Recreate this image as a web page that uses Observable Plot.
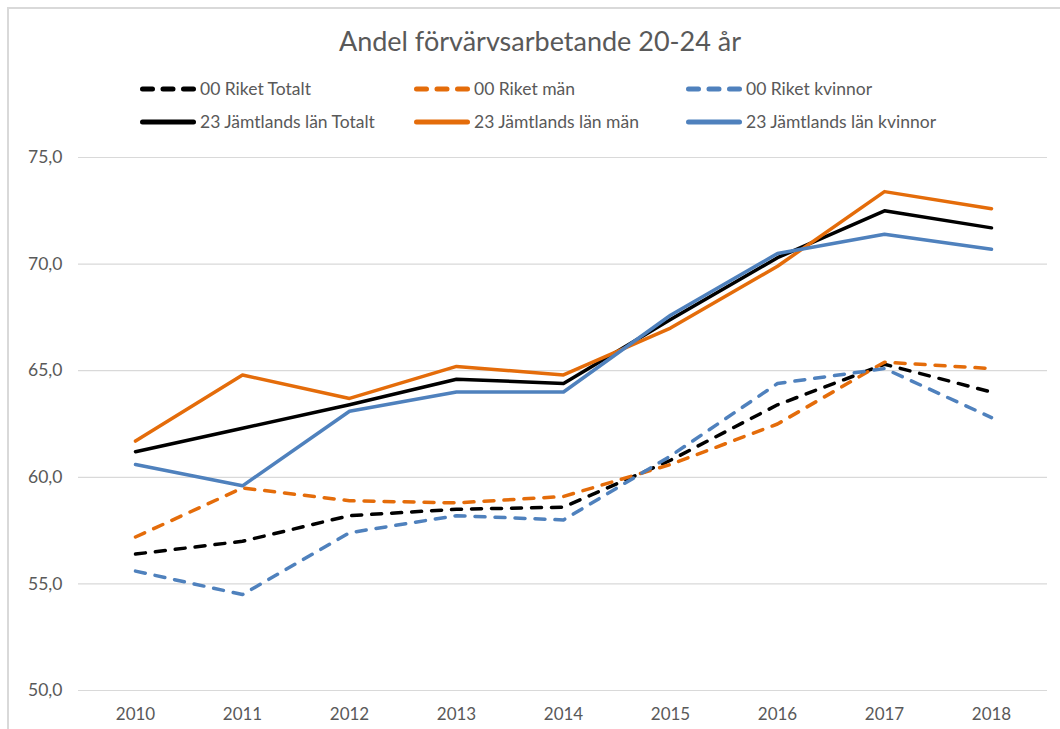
<!DOCTYPE html>
<html>
<head>
<meta charset="utf-8">
<script src="https://cdn.jsdelivr.net/npm/d3@7"></script>
<script src="https://cdn.jsdelivr.net/npm/@observablehq/plot@0.6"></script>
<style>
  html, body { margin: 0; padding: 0; background: #fff; }
  body { width: 1060px; height: 729px; position: relative; overflow: hidden; font-family: Lato, "Open Sans", sans-serif; color: #595959; }
  #frame { position: absolute; left: 7px; top: 7px; width: 1100px; height: 800px; border-top: 2px solid #d9d9d9; border-left: 2px solid #d9d9d9; }
  #title { position: absolute; left: 0; width: 1080px; top: 24px; text-align: center; font-size: 27px; color: #595959; }
  .leg { position: absolute; font-size: 17.5px; color: #595959; display: flex; align-items: center; white-space: nowrap; }
  .leg svg { margin-right: 3px; }
  #chart { position: absolute; left: 0; top: 140px; }
</style>
</head>
<body>
<div id="frame"></div>
<div id="title">Andel förvärvsarbetande 20-24 år</div>
<div id="legend"></div>
<div id="chart"></div>
<script>
const years = ["2010", "2011", "2012", "2013", "2014", "2015", "2016", "2017", "2018"];
const seriesNames = ["00 Riket Totalt", "00 Riket män", "00 Riket kvinnor", "23 Jämtlands län Totalt", "23 Jämtlands län män", "23 Jämtlands län kvinnor"];
const riketTotalt = [56.4, 57.0, 58.2, 58.5, 58.6, 60.8, 63.4, 65.3, 64.0];
const riketMan = [57.2, 59.5, 58.9, 58.8, 59.1, 60.6, 62.5, 65.4, 65.1];
const riketKvinnor = [55.6, 54.5, 57.4, 58.2, 58.0, 61.0, 64.4, 65.1, 62.8];
const jamtTotalt = [61.2, 62.3, 63.4, 64.6, 64.4, 67.4, 70.3, 72.5, 71.7];
const jamtMan = [61.7, 64.8, 63.7, 65.2, 64.8, 67.0, 69.9, 73.4, 72.6];
const jamtKvinnor = [60.6, 59.6, 63.1, 64.0, 64.0, 67.6, 70.5, 71.4, 70.7];
const yTicks = [50, 55, 60, 65, 70, 75];

const colors = ["#000000", "#E46C0A", "#4F81BD", "#000000", "#E46C0A", "#4F81BD"];
const dashed = [true, true, true, false, false, false];
const valuesList = [riketTotalt, riketMan, riketKvinnor, jamtTotalt, jamtMan, jamtKvinnor];

const rows = [];
seriesNames.forEach((name, i) => {
  valuesList[i].forEach((v, j) => rows.push({series: name, year: years[j], value: v}));
});

const fmt = d => d.toFixed(1).replace(".", ",");

const lineMarks = seriesNames.map((name, i) =>
  Plot.line(rows.filter(r => r.series === name), {
    x: "year", y: "value",
    stroke: colors[i],
    strokeWidth: 3.5,
    strokeDasharray: dashed[i] ? "10,10" : null,
    strokeLinecap: "round",
    strokeLinejoin: "round"
  })
);

const chart = Plot.plot({
  width: 1060,
  height: 589,
  marginLeft: 78,
  marginRight: 13,
  marginTop: 17,
  marginBottom: 39,
  style: { fontFamily: "Lato, 'Open Sans', sans-serif", fontSize: "17px", color: "#595959", background: "transparent" },
  x: { type: "point", domain: years, padding: 0.5, label: null },
  y: { domain: [50, 75], label: null },
  marks: [
    Plot.gridY(yTicks, { stroke: "#d9d9d9", strokeOpacity: 1, strokeWidth: 1.2 }),
    Plot.axisY(yTicks, { tickSize: 0, tickPadding: 16, tickFormat: fmt, fill: "#595959", fontSize: 17.5 }),
    Plot.axisX(years, { tickSize: 0, tickPadding: 17, fill: "#595959", fontSize: 17 }),
    ...lineMarks
  ]
});
document.getElementById("chart").appendChild(chart);

// Legend
const legendPos = [
  [139, 78], [413, 78], [685, 78],
  [139, 111], [413, 111], [685, 111]
];
const legend = document.getElementById("legend");
seriesNames.forEach((name, i) => {
  const d = document.createElement("div");
  d.className = "leg";
  d.style.left = legendPos[i][0] + "px";
  d.style.top = legendPos[i][1] + "px";
  d.innerHTML = `<svg width="58" height="20"><line x1="3.5" y1="10" x2="54.5" y2="10" stroke="${colors[i]}" stroke-width="5" stroke-linecap="round" ${dashed[i] ? 'stroke-dasharray="10,10.5"' : ''}/></svg><span>${name}</span>`;
  legend.appendChild(d);
});
</script>
</body>
</html>
